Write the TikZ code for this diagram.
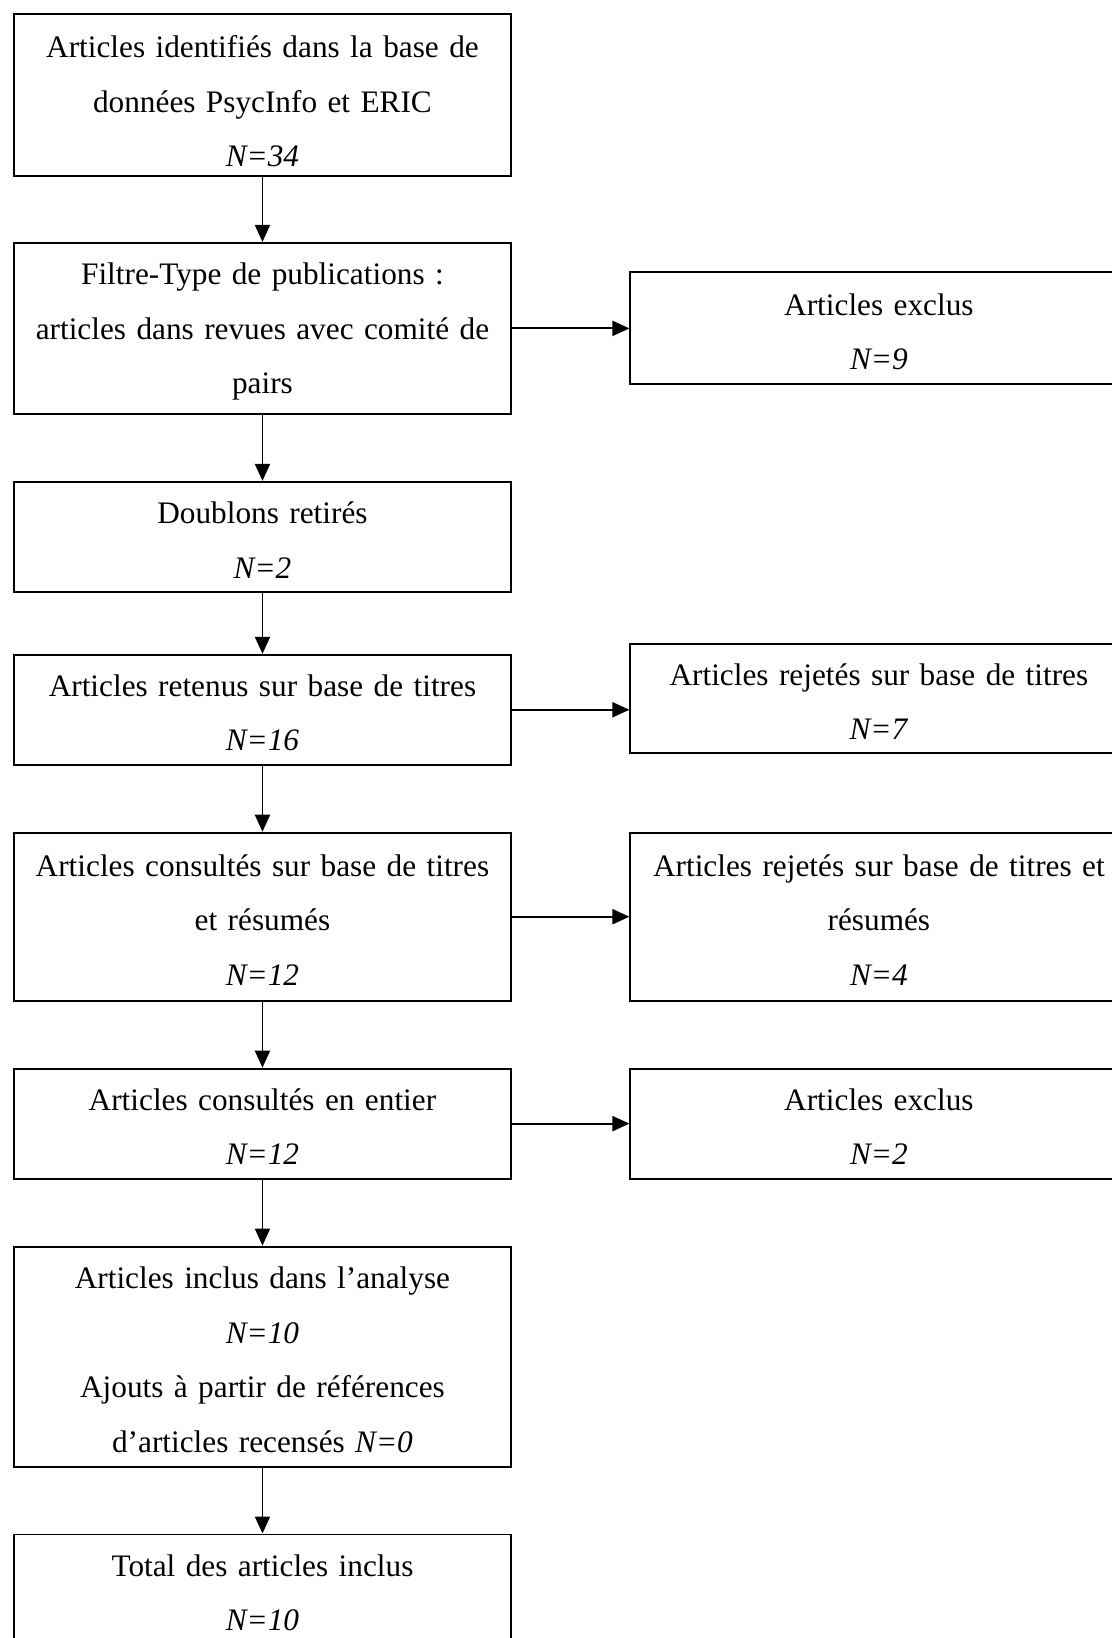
\documentclass[tikz,border=0pt]{standalone}
\usepackage{fontspec}
\setmainfont{Liberation Serif}
\usetikzlibrary{positioning,arrows.meta}

\begin{document}
\begin{tikzpicture}[>={Triangle[length=3.4mm,width=3mm]}, node distance=1.32cm,
    every node/.style={font=\fontsize{17.8}{31}\selectfont},
    stepbox/.style={draw, line width=1.1pt, rectangle, align=center, text width=9.5cm, inner xsep=0.22cm, inner ysep=0pt,
        execute at begin node=\rule{0pt}{0.9em}}]
    \useasboundingbox (0,0) rectangle (22.22,-32.76);

    % Main column
    \node (ident) [stepbox, minimum height=3.24cm, anchor=north west] at (0.26,-0.26) {\rule{0pt}{1.1em}Articles identifiés dans la base de\\ données PsycInfo et ERIC\\ \textit{N=34}};
    \node (filtre) [stepbox, minimum height=3.42cm, below=1.3cm of ident] {Filtre-Type de publications :\\ articles dans revues avec comité de\\ pairs};
    \node (doubl) [stepbox, minimum height=2.2cm, below=of filtre] {Doublons retirés\\ \textit{N=2}};
    \node (titres) [stepbox, minimum height=2.2cm, below=1.22cm of doubl] {Articles retenus sur base de titres\\ \textit{N=16}};
    \node (resumes) [stepbox, minimum height=3.36cm, below=of titres] {Articles consultés sur base de titres\\ et résumés\\ \textit{N=12}};
    \node (entier) [stepbox, minimum height=2.2cm, below=of resumes] {Articles consultés en entier\\ \textit{N=12}};
    \node (inclus) [stepbox, minimum height=4.4cm, below=of entier] {Articles inclus dans l’analyse\\ \textit{N=10}\\ Ajouts à partir de références\\ d’articles recensés \textit{N=0}};
    \node (total) [stepbox, minimum height=2.2cm, below=of inclus] {Total des articles inclus\\ \textit{N=10}};

    % Side boxes
    \node (exclA) [stepbox, minimum height=2.24cm, right=2.35cm of filtre] {Articles exclus\\ \textit{N=9}};
    \node (rejT) [stepbox, minimum height=2.18cm, right=2.35cm of titres, yshift=0.23cm] {Articles rejetés sur base de titres\\ \textit{N=7}};
    \node (rejR) [stepbox, minimum height=3.36cm, right=2.35cm of resumes] {Articles rejetés sur base de titres et\\ résumés\\ \textit{N=4}};
    \node (exclB) [stepbox, minimum height=2.2cm, right=2.35cm of entier] {Articles exclus\\ \textit{N=2}};

    % Arrows down
    \draw[->, line width=1.1pt] (ident) -- (filtre);
    \draw[->, line width=1.1pt] (filtre) -- (doubl);
    \draw[->, line width=1.1pt] (doubl) -- (titres);
    \draw[->, line width=1.1pt] (titres) -- (resumes);
    \draw[->, line width=1.1pt] (resumes) -- (entier);
    \draw[->, line width=1.1pt] (entier) -- (inclus);
    \draw[->, line width=1.1pt] (inclus) -- (total);

    % Arrows to the side
    \draw[->, line width=1.1pt] (filtre.east) -- (filtre.east -| exclA.west);
    \draw[->, line width=1.1pt] (titres.east) -- (titres.east -| rejT.west);
    \draw[->, line width=1.1pt] (resumes.east) -- (resumes.east -| rejR.west);
    \draw[->, line width=1.1pt] (entier.east) -- (entier.east -| exclB.west);

\end{tikzpicture}
\end{document}
